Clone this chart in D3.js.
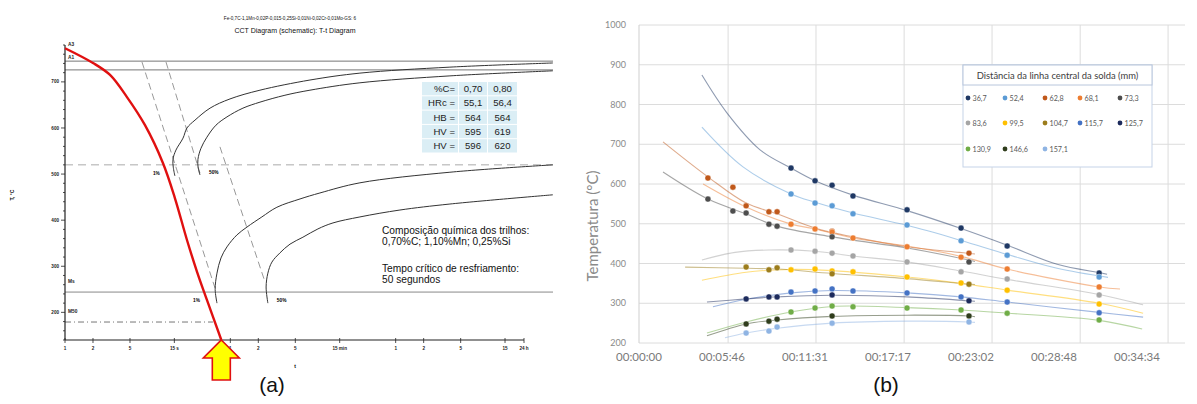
<!DOCTYPE html>
<html><head><meta charset="utf-8">
<script src="https://cdn.jsdelivr.net/npm/d3@7"></script>
<style>
body{margin:0;background:#fff;}
svg{display:block;}
</style></head><body>
<svg id="chart" width="1197" height="404"></svg>
<script>
// ================= (a) CCT diagram data =================
const leftTitle1 = "Fe-0,7C-1,1Mn-0,02P-0,015-0,25Si-0,01Ni-0,02Cr-0,01Mo-GS: 6";
const leftTitle2 = "CCT Diagram (schematic): T-t Diagram";
const leftXTickSec = [1, 2, 5, 15, 60, 120, 300, 900, 3600, 7200, 18000, 54000, 86400];
const leftXTickLabels = ["1", "2", "5", "15 s", "1", "2", "5", "15 min", "1", "2", "5", "15", "24 h"];
const leftYTicks = [200, 300, 400, 500, 600, 700];
const leftYMinorTicks = d3.range(140, 781, 20);
// horizontal reference temperatures
const lineA1a = 745, lineA1b = 726, lineDashed = 520, lineMs = 244, lineM50 = 179;
const m50EndSec = 39;
// cooling curve (seconds, °C)
const coolingCurve = [[1,773],[2,741],[3.05,715],[4.64,667],[7.25,606],[11.3,524],[15.2,448],[20.5,357],[26.3,288],[33.6,227],[48,140]];
// C-curves (seconds, °C)
const cUpper1 = [[15.2,496],[14.6,515],[14.5,532],[15.6,552],[18.6,578],[20.5,600],[25.0,617],[36.3,643],[59.5,663],[125,682],[431,704],[1486,719],[13800,732],[176600,741]];
const cUpper50 = [[28.3,498],[27.0,515],[26.9,532],[29.0,556],[33.6,580],[42.0,606],[55.2,624],[82.0,643],[125,656],[232,671],[431,682],[1486,698],[13800,713],[176600,724]];
const cLower1 = [[43.1,220],[41.2,250],[43.1,285],[47.6,318],[55.2,342],[70.7,368],[90.6,385],[131,407],[190,428],[337,446],[552,459],[1486,481],[13800,504],[176600,520]];
const cLower50 = [[152,220],[145.5,255],[152,285],[168,309],[205,329],[263,348],[362,363],[525,381],[762,394],[1486,407],[4000,422],[13800,435],[176600,455]];
// dashed diagonals [[sec,T],[sec,T]]
const diag1 = [[6.73,743],[41.0,253]];
const diag2 = [[12.2,743],[28.3,502]];
const diag3 = [[46.4,559],[141.6,266]];
// table
const tableRowLabels = ["%C=", "HRc =", "HB =", "HV =", "HV ="];
const tableCol1 = ["0,70", "55,1", "564", "595", "596"];
const tableCol2 = ["0,80", "56,4", "564", "619", "620"];
const noteLines = ["Composição química dos trilhos:", "0,70%C; 1,10%Mn; 0,25%Si", "Tempo crítico de resfriamento:", "50 segundos"];
const criticalTimeSec = 48;

// ================= (b) temperature vs time data =================
const rightYTicks = [200, 300, 400, 500, 600, 700, 800, 900, 1000];
const rightXTicks = [0, 345.6, 691.2, 1036.8, 1382.4, 1728, 2073.6];
const rightGridSec = [371, 737, 1104, 1470, 1837, 2203];
const legendTitle = "Distância da linha central da solda (mm)";
const seriesNames = ["36,7","52,4","62,8","68,1","73,3","83,6","99,5","104,7","115,7","125,7","130,9","146,6","157,1"];
const seriesColors = ["#1f3864","#5b9bd5","#c0581a","#ed7d31","#4d4d4d","#a5a5a5","#ffc000","#9c7d1c","#4472c4","#1c2a5c","#70ad47","#2f3d1c","#8fb4e3"];

const p367 = [[633,640],[733,608],[804,597],[891,570],[1116,535],[1341,489],[1533,444],[1916,376]];
const t367 = [[262,874],[366,779],[504,686],[633,640],[733,608],[891,572],[1116,533],[1341,488],[1533,446],[1741,398],[1916,377],[1949,373]];
const p524 = [[633,575],[733,552],[804,545],[891,525],[1116,497],[1341,457],[1533,421],[1916,366]];
const t524 = [[262,743],[433,643],[633,575],[733,554],[891,527],[1116,496],[1341,458],[1533,423],[1741,388],[1953,365]];
const p628 = [[287,615],[391,592],[446,545],[541,530],[575,530],[804,481],[1374,426]];
const t628 = [[100,706],[287,618],[446,552],[575,525],[733,489],[891,467],[1116,442],[1333,428],[1399,424]];
const p681 = [[633,499],[733,487],[804,479],[891,464],[1116,442],[1341,416],[1533,386],[1916,341]];
const t681 = [[267,600],[446,542],[633,499],[733,487],[891,464],[1116,444],[1341,418],[1533,386],[1916,341],[2003,336]];
const p733 = [[287,562],[391,532],[446,527],[541,499],[575,494],[804,467],[1374,404]];
const t733 = [[100,630],[287,562],[446,525],[575,494],[804,467],[1116,439],[1333,414],[1399,405]];
const p836 = [[633,434],[733,431],[804,426],[891,419],[1116,404],[1341,379],[1533,361],[1916,321]];
const t836 = [[262,409],[400,428],[541,434],[733,431],[891,419],[1116,404],[1341,381],[1533,360],[1916,322],[2099,296]];
const p995 = [[633,384],[733,386],[804,381],[891,379],[1116,366],[1341,351],[1533,333],[1916,298]];
const t995 = [[262,358],[446,378],[633,385],[804,382],[1116,366],[1341,350],[1533,333],[1916,300],[2099,275]];
const p1047 = [[446,391],[541,384],[575,389],[804,374],[1374,348]];
const t1047 = [[192,391],[446,388],[575,386],[804,375],[1116,362],[1374,348],[1399,347]];
const p1157 = [[633,328],[733,331],[804,336],[891,331],[1116,326],[1341,316],[1533,303],[1916,276]];
const t1157 = [[308,291],[446,310],[633,326],[804,332],[1116,326],[1341,316],[1533,303],[1916,277],[2099,265]];
const p1257 = [[446,311],[541,316],[575,316],[804,321],[1374,306]];
const t1257 = [[283,303],[446,311],[575,316],[804,320],[1116,316],[1374,306],[1399,305]];
const p1309 = [[633,278],[733,288],[804,293],[891,291],[1116,288],[1341,283],[1533,275],[1916,258]];
const t1309 = [[283,225],[446,253],[633,278],[804,292],[1116,289],[1341,283],[1533,275],[1916,257],[2095,235]];
const p1466 = [[446,248],[541,255],[575,260],[804,268],[1374,268]];
const t1466 = [[283,218],[446,248],[575,258],[804,267],[1116,270],[1374,268],[1399,266]];
const p1571 = [[446,225],[541,230],[575,240],[804,250],[1374,253]];
const t1571 = [[358,213],[446,225],[575,237],[804,250],[1116,255],[1374,253],[1399,252]];

const seriesPoints = [p367,p524,p628,p681,p733,p836,p995,p1047,p1157,p1257,p1309,p1466,p1571];
const seriesTrends = [t367,t524,t628,t681,t733,t836,t995,t1047,t1157,t1257,t1309,t1466,t1571];

// ================= drawing =================
const svg = d3.select("#chart");
svg.append("rect").attr("width",1197).attr("height",404).attr("fill","#fff");

// ---------- (a) ----------
const A = svg.append("g");
const xL = d3.scaleLog().domain([1, 86400]).range([65, 524]);
const yL = d3.scaleLinear().domain([140, 780]).range([340, 45]);
const rightEdgeL = 553;
const smallFont = "Liberation Sans, Arial, sans-serif";

A.append("text").attr("x",290).attr("y",19.5).attr("text-anchor","middle")
  .attr("font-family",smallFont).attr("font-size",4.6).attr("fill","#111").text(leftTitle1);
A.append("text").attr("x",295).attr("y",33).attr("text-anchor","middle")
  .attr("font-family",smallFont).attr("font-size",7).attr("fill","#111").text(leftTitle2);

function hline(T, x2, dash, color) {
  A.append("line").attr("x1",xL(1)).attr("x2",x2).attr("y1",yL(T)).attr("y2",yL(T))
    .attr("stroke",color).attr("stroke-width",1).attr("stroke-dasharray",dash||null);
}
hline(lineA1a, rightEdgeL, null, "#777");
hline(lineA1b, rightEdgeL, null, "#777");
hline(lineDashed, rightEdgeL, "8,5", "#aaa");
hline(lineMs, rightEdgeL, null, "#888");
hline(lineM50, xL(m50EndSec), "6,3,1,3", "#777");

[diag1, diag2, diag3].forEach(d => {
  A.append("line").attr("x1",xL(d[0][0])).attr("y1",yL(d[0][1])).attr("x2",xL(d[1][0])).attr("y2",yL(d[1][1]))
    .attr("stroke","#999").attr("stroke-width",1).attr("stroke-dasharray","7,4");
});

const lineL = d3.line().x(d=>xL(d[0])).y(d=>yL(d[1])).curve(d3.curveCatmullRom.alpha(0.5));
[cUpper1, cUpper50, cLower1, cLower50].forEach(c => {
  A.append("path").attr("d", lineL(c)).attr("fill","none").attr("stroke","#333").attr("stroke-width",1);
});

// axes
A.append("line").attr("x1",xL(1)).attr("x2",xL(1)).attr("y1",yL(140)).attr("y2",yL(780)).attr("stroke","#222").attr("stroke-width",1.2);
A.append("line").attr("x1",xL(1)).attr("x2",xL(86400)).attr("y1",yL(140)).attr("y2",yL(140)).attr("stroke","#222").attr("stroke-width",1.2);
leftYMinorTicks.forEach(v => {
  const major = leftYTicks.includes(v);
  A.append("line").attr("x1",xL(1)-(major?4:2)).attr("x2",xL(1)).attr("y1",yL(v)).attr("y2",yL(v)).attr("stroke","#222").attr("stroke-width",0.8);
});
leftYTicks.forEach(v => {
  A.append("text").attr("x",xL(1)-6).attr("y",yL(v)+1.6).attr("text-anchor","end")
    .attr("font-family",smallFont).attr("font-size",4.6).attr("font-weight","bold").attr("fill","#222").text(v);
});
leftXTickSec.forEach((v,i) => {
  A.append("line").attr("x1",xL(v)).attr("x2",xL(v)).attr("y1",yL(140)-2).attr("y2",yL(140)+3).attr("stroke","#222").attr("stroke-width",0.8);
  A.append("text").attr("x",xL(v)).attr("y",yL(140)+10).attr("text-anchor","middle")
    .attr("font-family",smallFont).attr("font-size",4.6).attr("font-weight","bold").attr("fill","#222").text(leftXTickLabels[i]);
});
A.append("text").attr("x",295).attr("y",368).attr("text-anchor","middle").attr("font-family",smallFont).attr("font-size",5).attr("font-weight","bold").text("t");
A.append("text").attr("transform","translate(14,195) rotate(-90)").attr("text-anchor","middle").attr("font-family",smallFont).attr("font-size",5).attr("font-weight","bold").text("T, °C");

// critical labels
const critLabels = [["A3",773,-2],["A1",lineA1a,-2],["Ms",lineMs,-9],["M50",lineM50,-9]];
critLabels.forEach(c => {
  A.append("text").attr("x",xL(1)+3).attr("y",yL(c[1])+c[2]).attr("font-family",smallFont).attr("font-size",4.8).attr("font-weight","bold").attr("fill","#222").text(c[0]);
});
// percentage labels
A.append("text").attr("x",xL(cUpper1[0][0])-22).attr("y",yL(cUpper1[0][1])-1).attr("font-family",smallFont).attr("font-size",4.8).attr("font-weight","bold").text("1%");
A.append("text").attr("x",xL(cUpper50[0][0])+9).attr("y",yL(cUpper50[0][1])-1).attr("font-family",smallFont).attr("font-size",4.8).attr("font-weight","bold").text("50%");
A.append("text").attr("x",xL(cLower1[0][0])-24).attr("y",yL(cLower1[0][1])-1).attr("font-family",smallFont).attr("font-size",4.8).attr("font-weight","bold").text("1%");
A.append("text").attr("x",xL(cLower50[0][0])+9).attr("y",yL(cLower50[0][1])-1).attr("font-family",smallFont).attr("font-size",4.8).attr("font-weight","bold").text("50%");

// red cooling curve
A.append("path").attr("d", lineL(coolingCurve)).attr("fill","none").attr("stroke","#e01010").attr("stroke-width",2.4);

// table
const tX = [422, 459, 488], tW = [36, 28, 29], tY0 = 82, tH = 13.3, tGap = 1;
tableRowLabels.forEach((lab,i) => {
  const y = tY0 + i*(tH+tGap);
  [lab, tableCol1[i], tableCol2[i]].forEach((txt,j) => {
    A.append("rect").attr("x",tX[j]).attr("y",y).attr("width",tW[j]).attr("height",tH).attr("fill","#dbeef5");
    A.append("text").attr("x", j===0 ? tX[j]+tW[j]-3 : tX[j]+tW[j]/2).attr("y",y+tH/2+3.5)
      .attr("text-anchor", j===0 ? "end" : "middle").attr("font-family",smallFont).attr("font-size",9.6).attr("fill","#222").text(txt);
  });
});

// notes
const noteY = [234, 245, 272, 283];
noteLines.forEach((t,i) => {
  A.append("text").attr("x",382).attr("y",noteY[i]).attr("font-family",smallFont).attr("font-size",10.2).attr("fill","#111").text(t);
});

// arrow
const ax = xL(criticalTimeSec), ay = yL(140);
const arrowPts = [[ax,ay],[ax+18,ay+18],[ax+9,ay+18],[ax+9,ay+40],[ax-9,ay+40],[ax-9,ay+18],[ax-18,ay+18]];
A.append("polygon").attr("points", arrowPts.map(p=>p.join(",")).join(" "))
  .attr("fill","#ffff00").attr("stroke","#e01010").attr("stroke-width",1.6).attr("stroke-linejoin","miter");

svg.append("text").attr("x",272).attr("y",392).attr("text-anchor","middle").attr("font-family",smallFont).attr("font-size",21).attr("fill","#111").text("(a)");
svg.append("text").attr("x",886).attr("y",392).attr("text-anchor","middle").attr("font-family",smallFont).attr("font-size",21).attr("fill","#111").text("(b)");

// ---------- (b) ----------
const B = svg.append("g");
const xR = d3.scaleLinear().domain([0, 2073.6]).range([639, 1137]);
const yR = d3.scaleLinear().domain([200, 1000]).range([343, 25]);
const rightEdgeR = 1185;
const rFont = "Lato, 'Open Sans', sans-serif";

rightYTicks.forEach(v => {
  B.append("line").attr("x1",xR(0)).attr("x2",rightEdgeR).attr("y1",yR(v)).attr("y2",yR(v)).attr("stroke","#dcdcdc").attr("stroke-width",1);
  B.append("text").attr("x",626).attr("y",yR(v)+3).attr("text-anchor","end").attr("font-family",rFont).attr("font-size",9).attr("fill","#8a8a8a").text(v);
});
rightGridSec.forEach(v => {
  B.append("line").attr("x1",xR(v)).attr("x2",xR(v)).attr("y1",yR(1000)).attr("y2",yR(200)).attr("stroke","#dcdcdc").attr("stroke-width",1);
});
B.append("line").attr("x1",xR(0)).attr("x2",xR(0)).attr("y1",yR(1000)).attr("y2",yR(200)).attr("stroke","#cfcfcf").attr("stroke-width",1);

const fmtTime = s => { const r = Math.round(s); const h = Math.floor(r/3600), m = Math.floor((r%3600)/60), ss = r%60; return [h,m,ss].map(v=>String(v).padStart(2,"0")).join(":"); };
rightXTicks.forEach(v => {
  B.append("text").attr("x",xR(v)).attr("y",361).attr("text-anchor","middle").attr("font-family",rFont).attr("font-size",11.5).attr("fill","#7a7a7a").text(fmtTime(v));
});
B.append("text").attr("transform","translate(598,226) rotate(-90)").attr("text-anchor","middle")
  .attr("font-family",rFont).attr("font-size",15).attr("fill","#8a8a8a").text("Temperatura (°C)");

const lineR = d3.line().x(d=>xR(d[0])).y(d=>yR(d[1])).curve(d3.curveCatmullRom);
seriesTrends.forEach((tr,i) => {
  B.append("path").attr("d", lineR(tr)).attr("fill","none").attr("stroke",seriesColors[i]).attr("stroke-opacity",0.5).attr("stroke-width",1.1);
});
seriesPoints.forEach((pts,i) => {
  B.selectAll(null).data(pts).enter().append("circle")
    .attr("cx",d=>xR(d[0])).attr("cy",d=>yR(d[1])).attr("r",3)
    .attr("fill",seriesColors[i]).attr("stroke","#fff").attr("stroke-width",0.4);
});

// legend
const lgX = 963, lgY = 65, lgW = 189, lgH = 102;
B.append("rect").attr("x",lgX).attr("y",lgY).attr("width",lgW).attr("height",lgH).attr("fill","#fff").attr("stroke","#c5d3e8").attr("stroke-width",1);
B.append("rect").attr("x",lgX).attr("y",lgY).attr("width",lgW).attr("height",20).attr("fill","#fff").attr("stroke","#b8c6dc").attr("stroke-width",1);
B.append("text").attr("x",lgX+lgW/2).attr("y",lgY+13.5).attr("text-anchor","middle").attr("font-family",rFont).attr("font-size",9.4).attr("fill","#404040").text(legendTitle);
const lgCols = [968, 1005, 1045, 1080, 1120], lgRows = [98, 123, 149];
seriesNames.forEach((n,i) => {
  const cx = lgCols[i%5], cy = lgRows[Math.floor(i/5)];
  B.append("circle").attr("cx",cx).attr("cy",cy).attr("r",2.4).attr("fill",seriesColors[i]);
  B.append("text").attr("x",cx+4.5).attr("y",cy+2.6).attr("font-family",rFont).attr("font-size",7.2).attr("fill","#595959").text(n);
});
</script>
</body></html>
